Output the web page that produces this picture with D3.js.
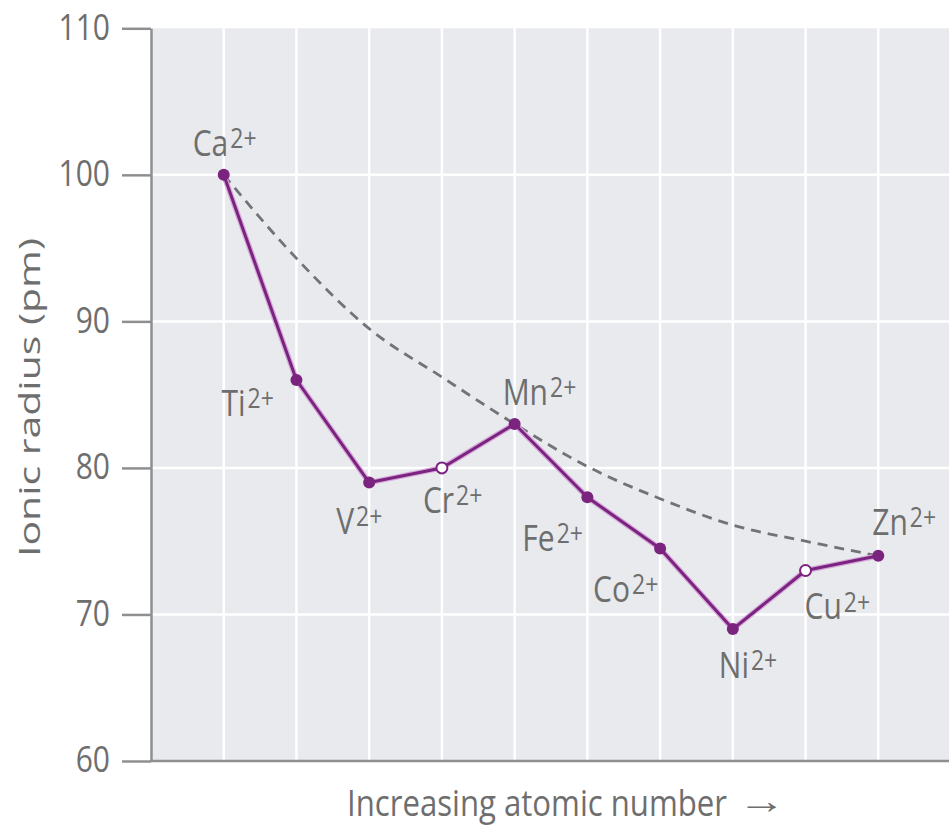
<!DOCTYPE html>
<html>
<head>
<meta charset="utf-8">
<script src="https://cdn.jsdelivr.net/npm/d3@7"></script>
<style>
  html, body { margin: 0; padding: 0; background: #ffffff; }
  svg { display: block; }
  text { font-family: "Open Sans", "Noto Sans", sans-serif; fill: #6e6e6e; }
</style>
</head>
<body>
<svg id="chart" width="949" height="829"></svg>
<script>
// ---- data ----
const elements = ["Ca", "Ti", "V", "Cr", "Mn", "Fe", "Co", "Ni", "Cu", "Zn"];
const charge = "2+";
const radius = [100, 86, 79, 80, 83, 78, 74.5, 69, 73, 74];
const openPoints = ["Cr", "Cu"];
const trend = [100, 94.3, 89.5, 86.2, 83, 80.1, 77.9, 76.1, 75, 74];
const yTicks = [60, 70, 80, 90, 100, 110];
const yTitle = "Ionic radius (pm)";
const xTitle = "Increasing atomic number";
const xArrow = "\u2192";

(function () {
// ---- layout ----
const svg = d3.select("#chart");
const pLeft = 151, pRight = 951, pTop = 28.3, pBottom = 761;
const x = d3.scalePoint().domain(elements).range([pLeft, pRight]).padding(1);
const y = d3.scaleLinear().domain([60, 110]).range([pBottom, pTop]);

const purple = "#7a237f";
const gridC = "#ffffff";
const axisC = "#8e8f91";

// plot background
svg.append("rect")
  .attr("x", pLeft).attr("y", y(110))
  .attr("width", 949 - pLeft).attr("height", y(60) - y(110))
  .attr("fill", "#e8eaed");

// grid
svg.append("g").selectAll("line").data(elements).join("line")
  .attr("x1", d => x(d)).attr("x2", d => x(d))
  .attr("y1", y(110)).attr("y2", y(60))
  .attr("stroke", gridC).attr("stroke-width", 2.5);
svg.append("g").selectAll("line").data(yTicks.filter(t => t > 60 && t < 110)).join("line")
  .attr("x1", pLeft).attr("x2", 949)
  .attr("y1", d => y(d)).attr("y2", d => y(d))
  .attr("stroke", gridC).attr("stroke-width", 2.5);

// y axis
const yAxis = svg.append("g")
  .attr("transform", `translate(${pLeft},0)`)
  .call(d3.axisLeft(y).tickValues(yTicks).tickSize(29).tickPadding(12).tickSizeOuter(0));
yAxis.select(".domain").attr("stroke", axisC).attr("stroke-width", 2.5);
yAxis.selectAll(".tick line").attr("stroke", axisC).attr("stroke-width", 2.5);
yAxis.selectAll(".tick text")
  .attr("font-family", "Open Sans")
  .attr("font-size", 30)
  .attr("fill", "#6e6e6e")
  .attr("transform", "scale(1,1.22)")
  .attr("dy", "0.3em");

// bottom axis line
svg.append("line")
  .attr("x1", pLeft - 1).attr("x2", 949)
  .attr("y1", y(60)).attr("y2", y(60))
  .attr("stroke", axisC).attr("stroke-width", 2.5);

// dashed trend curve
const trendLine = d3.line()
  .x((d, i) => x(elements[i]))
  .y(d => y(d))
  .curve(d3.curveMonotoneX);
svg.append("path")
  .datum(trend)
  .attr("d", trendLine)
  .attr("fill", "none")
  .attr("stroke", "#717376")
  .attr("stroke-width", 2.8)
  .attr("stroke-dasharray", "10,7");

// data line
const dataLine = d3.line()
  .x((d, i) => x(elements[i]))
  .y(d => y(d));
svg.append("path")
  .datum(radius)
  .attr("d", dataLine)
  .attr("fill", "none")
  .attr("stroke", "#d7a8da")
  .attr("stroke-width", 5.5)
  .attr("stroke-linejoin", "round");
svg.append("path")
  .datum(radius)
  .attr("d", dataLine)
  .attr("fill", "none")
  .attr("stroke", purple)
  .attr("stroke-width", 3)
  .attr("stroke-linejoin", "round");

// points
svg.append("g").selectAll("circle").data(elements).join("circle")
  .attr("cx", d => x(d))
  .attr("cy", (d, i) => y(radius[i]))
  .attr("r", d => openPoints.includes(d) ? 5.5 : 6)
  .attr("fill", d => openPoints.includes(d) ? "#ffffff" : purple)
  .attr("stroke", purple)
  .attr("stroke-width", d => openPoints.includes(d) ? 2 : 0);

// point labels (offsets relative to the point, in px)
const labelOffset = {
  Ca: [-31, -19], Ti: [-75, 36], V: [-33, 51], Cr: [-19, 45], Mn: [-12, -19],
  Fe: [-65, 54], Co: [-67, 53], Ni: [-14, 49], Cu: [-1, 49], Zn: [-6, -21]
};
const labels = svg.append("g").selectAll("text").data(elements).join("text")
  .attr("transform", (d, i) => `translate(${x(d) + labelOffset[d][0]},${y(radius[i]) + labelOffset[d][1]}) scale(1,1.2)`)
  .attr("font-size", 30);
labels.append("tspan").text(d => d);
labels.append("tspan").text(charge)
  .attr("font-size", 23)
  .attr("dx", 2)
  .attr("dy", -6.5);

// axis titles
svg.append("text")
  .attr("transform", `translate(40,397.5) rotate(-90)`)
  .attr("text-anchor", "middle")
  .attr("font-size", 30)
  .attr("textLength", 319)
  .attr("lengthAdjust", "spacingAndGlyphs")
  .text(yTitle);

svg.append("text")
  .attr("transform", `translate(347,816) scale(1,1.15)`)
  .attr("text-anchor", "start")
  .attr("font-size", 31)
  .attr("textLength", 380)
  .attr("lengthAdjust", "spacingAndGlyphs")
  .text(xTitle);
svg.append("text")
  .attr("transform", `translate(738,813) scale(1.55,1.15)`)
  .attr("text-anchor", "start")
  .attr("font-size", 31)
  .text(xArrow);
})();
</script>
</body>
</html>
